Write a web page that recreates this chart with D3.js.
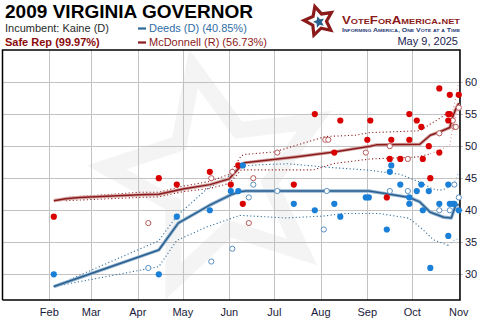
<!DOCTYPE html>
<html><head><meta charset="utf-8">
<script src="https://cdn.jsdelivr.net/npm/d3@7"></script>
<style>body{margin:0;background:#fff}svg{display:block;font-family:Arial,"Liberation Sans",sans-serif}</style>
</head><body><svg id="c" width="490" height="330"></svg>
<script>
// ---------- data ----------
const monthTicks = ["2009-02-01","2009-03-01","2009-04-01","2009-05-01","2009-06-01","2009-07-01","2009-08-01","2009-09-01","2009-10-01","2009-11-01"];
const monthLabels = ["Feb","Mar","Apr","May","Jun","Jul","Aug","Sep","Oct","Nov"];
const yTicks = [30,35,40,45,50,55,60];

const mcdTrend = [["2009-02-04",41.5],["2009-02-12",41.8],["2009-02-21",42.0],["2009-04-02",42.4],["2009-04-15",42.5],["2009-05-01",43.3],["2009-05-19",44.0],["2009-06-01",44.9],["2009-06-09",47.0],["2009-06-11",47.4],["2009-07-15",48.3],["2009-08-10",49.1],["2009-09-03",50.0],["2009-09-07",50.2],["2009-10-06",50.3],["2009-10-13",51.7],["2009-10-19",52.2],["2009-10-26",52.9],["2009-10-28",54.6],["2009-10-30",55.8],["2009-11-01",56.7]];
const deedsTrend = [["2009-02-04",28.1],["2009-04-15",33.8],["2009-04-28",38.0],["2009-05-19",40.8],["2009-06-02",42.4],["2009-06-08",42.9],["2009-06-12",43.0],["2009-09-02",43.0],["2009-09-13",42.6],["2009-09-29",42.0],["2009-10-06",41.3],["2009-10-13",39.7],["2009-10-22",38.9],["2009-10-27",38.8],["2009-10-28",39.5],["2009-10-30",40.8],["2009-11-01",40.85]];

const mcdUpper = [["2009-02-12",42.0],["2009-04-02",42.8],["2009-04-15",42.8],["2009-05-01",43.75],["2009-05-19",44.5],["2009-06-01",45.6],["2009-06-09",48.5],["2009-06-11",48.7],["2009-07-01",49.1],["2009-08-04",51.5],["2009-08-24",51.7],["2009-09-02",52.1],["2009-10-06",52.4],["2009-10-12",53.3],["2009-10-19",54.3],["2009-10-24",55.1]];
const mcdUpperEnd = [["2009-10-24",55.1],["2009-10-28",55.5],["2009-10-30",57.5],["2009-11-01",60.3]];
const mcdLower = [["2009-02-12",41.5],["2009-04-02",42.0],["2009-04-15",42.1],["2009-05-01",42.9],["2009-05-19",43.4],["2009-06-01",44.2],["2009-06-09",46.3],["2009-07-27",46.3],["2009-08-10",47.3],["2009-09-03",48.0],["2009-10-04",48.3],["2009-10-13",48.8]];
const mcdLowerEnd = [["2009-10-13",48.8],["2009-10-19",49.4],["2009-10-26",50.2],["2009-10-28",53.0],["2009-11-01",56.1]];

const deedsUpper = [["2009-02-04",28.1],["2009-04-15",35.25],["2009-04-27",39.1],["2009-05-17",43.3],["2009-05-30",45.0],["2009-06-08",46.9],["2009-06-22",47.1],["2009-07-10",47.25],["2009-08-06",46.7],["2009-09-02",46.25],["2009-09-23",45.6],["2009-10-06",44.4],["2009-10-14",43.4],["2009-10-19",43.1],["2009-10-24",43.4]];
const deedsUpperEnd = [["2009-10-24",43.4],["2009-10-30",44.7],["2009-11-01",46.0]];
const deedsLower = [["2009-02-04",28.1],["2009-04-15",31.2],["2009-04-27",35.3],["2009-05-17",37.4],["2009-06-08",39.2],["2009-07-09",38.8],["2009-08-03",39.1],["2009-08-16",39.5],["2009-09-09",39.5],["2009-09-29",38.75],["2009-10-08",37.0],["2009-10-15",35.4],["2009-10-25",34.5]];
const deedsLowerEnd = [["2009-10-25",34.5],["2009-10-28",35.2],["2009-11-01",35.6]];

const mcdPolls = [["2009-02-04",39],["2009-04-15",45],["2009-04-27",44],["2009-05-19",46],["2009-06-02",44],["2009-06-07",47],["2009-06-10",41],["2009-07-14",44],["2009-07-28",55],["2009-08-10",49],["2009-08-14",54],["2009-09-01",51],["2009-09-03",54],["2009-09-14",42],["2009-09-17",51],["2009-09-16",48],["2009-09-23",48],["2009-09-29",55],["2009-09-29",51],["2009-10-04",54],["2009-10-07",53],["2009-10-08",48],["2009-10-12",50],["2009-10-13",45],["2009-10-19",59],["2009-10-19",49],["2009-10-25",55],["2009-10-25",54],["2009-10-26",55],["2009-10-26",58],["2009-11-01",58]];
const mcdPollsOpen = [["2009-04-08",38],["2009-05-20",45],["2009-06-03",46],["2009-06-14",38],["2009-06-17",45],["2009-07-03",49],["2009-08-04",51],["2009-08-06",51],["2009-08-31",49],["2009-09-16",50],["2009-09-28",48],["2009-10-19",52],["2009-10-28",54],["2009-10-29",53],["2009-10-30",53],["2009-11-01",56]];
const deedsPolls = [["2009-02-04",30],["2009-04-15",30],["2009-04-27",39],["2009-05-19",40],["2009-06-02",43],["2009-06-07",43],["2009-06-10",47],["2009-07-14",41],["2009-07-28",40],["2009-08-10",41],["2009-08-14",39],["2009-08-31",42],["2009-09-02",42],["2009-09-14",37],["2009-09-17",47],["2009-09-16",46],["2009-09-23",44],["2009-09-29",42],["2009-09-29",41],["2009-10-04",43],["2009-10-07",44],["2009-10-08",40],["2009-10-12",43],["2009-10-13",31],["2009-10-19",41],["2009-10-25",44],["2009-10-25",36],["2009-10-26",41],["2009-10-28",41],["2009-10-29",41],["2009-11-01",40]];
const deedsPollsOpen = [["2009-04-08",31],["2009-05-20",32],["2009-06-03",34],["2009-06-14",42],["2009-06-17",44],["2009-07-03",43],["2009-08-03",37],["2009-08-05",43],["2009-09-16",43],["2009-09-28",43],["2009-10-19",40],["2009-10-26",40],["2009-10-29",44],["2009-11-01",42]];

// ---------- chart ----------
const svg = d3.select("#c");
const parse = d3.utcParse("%Y-%m-%d");
const L = 2.5, R = 460, T = 50, B = 300;
const x = d3.scaleUtc().domain([parse("2009-01-01"), parse("2009-11-02")]).range([2.8, 460.3]);
const y = d3.scaleLinear().domain([26, 65]).range([B, T]);

function starPts(cx, cy, ro, ri, rot) {
  const p = [];
  for (let i = 0; i < 10; i++) {
    const a = rot + i * Math.PI / 5 - Math.PI / 2;
    const r = i % 2 ? ri : ro;
    p.push([cx + r * Math.cos(a), cy + r * Math.sin(a)]);
  }
  return p;
}
// watermark star
svg.append("polygon").attr("points", starPts(218, 178, 112, 52, -0.22).join(" "))
  .attr("fill", "none").attr("stroke", "#f4f4f4").attr("stroke-width", 16);

// grid
const g = svg.append("g");
g.selectAll(".hg").data(yTicks).join("line")
  .attr("x1", L).attr("x2", R + 3).attr("y1", d => Math.round(y(d)) + 0.5).attr("y2", d => Math.round(y(d)) + 0.5)
  .attr("stroke", "#c2c2c2").attr("stroke-width", 1);
g.selectAll(".vg").data(monthTicks).join("line")
  .attr("x1", d => Math.round(x(parse(d))) + 0.5).attr("x2", d => Math.round(x(parse(d))) + 0.5)
  .attr("y1", T).attr("y2", B)
  .attr("stroke", "#c2c2c2").attr("stroke-width", 1);

// frame
svg.append("path").attr("d", `M${L},${B}V${T}H${R}V${B}H${L}`).attr("fill", "none").attr("stroke", "#000").attr("stroke-width", 1.5);

// axis labels
svg.append("g").selectAll("text").data(monthTicks).join("text")
  .attr("x", d => x(parse(d))).attr("y", 316).attr("text-anchor", "middle")
  .attr("font-size", 11).attr("fill", "#1a1a3a").text((d, i) => monthLabels[i]);
svg.append("g").selectAll("text").data(yTicks).join("text")
  .attr("x", 465).attr("y", d => y(d) + 4).attr("font-size", 11).attr("fill", "#1a1a3a").text(d => d);

const line = d3.line().x(d => x(parse(d[0]))).y(d => y(d[1]));

// bands
function dotted(data, color) {
  svg.append("path").attr("d", line(data)).attr("fill", "none").attr("stroke", color)
    .attr("stroke-width", 1.1).attr("stroke-dasharray", "1.1,2.4");
}
dotted(mcdUpper, "#8b1a1a"); dotted(mcdUpperEnd, "#d69a9a");
dotted(mcdLower, "#8b1a1a"); dotted(mcdLowerEnd, "#d69a9a");
dotted(deedsUpper, "#2a6a9a"); dotted(deedsUpperEnd, "#8fb4d2");
dotted(deedsLower, "#2a6a9a"); dotted(deedsLowerEnd, "#8fb4d2");

// trend lines
function trend(data, halo, core) {
  svg.append("path").attr("d", line(data)).attr("fill", "none").attr("stroke", halo).attr("stroke-width", 3.4).attr("stroke-linejoin", "round");
  svg.append("path").attr("d", line(data)).attr("fill", "none").attr("stroke", core).attr("stroke-width", 1.5).attr("stroke-linejoin", "round");
}
trend(mcdTrend, "#d4a6a6", "#8b1a1a");
trend(deedsTrend, "#94b5d1", "#2a5f8f");

// polls
function dots(data, fill, stroke, open) {
  svg.append("g").selectAll("circle").data(data).join("circle")
    .attr("cx", d => x(parse(d[0]))).attr("cy", d => y(d[1]))
    .attr("r", open ? 2.6 : 3.1)
    .attr("fill", open ? "#fff" : fill).attr("stroke", open ? stroke : "none").attr("stroke-width", 1);
}
dots(mcdPollsOpen, null, "#b85a5a", true);
dots(deedsPollsOpen, null, "#5a8fbf", true);
dots(mcdPolls, "#d90000", null, false);
dots(deedsPolls, "#1a7fd6", null, false);

// header
svg.append("text").attr("x", 5).attr("y", 18).attr("font-size", 18).attr("font-weight", "bold")
  .attr("fill", "#000").attr("textLength", 248).attr("lengthAdjust", "spacingAndGlyphs").text("2009 VIRGINIA GOVERNOR");
svg.append("text").attr("x", 5).attr("y", 32).attr("font-size", 11).attr("fill", "#2a2a2a").text("Incumbent: Kaine (D)");
svg.append("text").attr("x", 5).attr("y", 46).attr("font-size", 11).attr("font-weight", "bold").attr("fill", "#8b0a0a").text("Safe Rep (99.97%)");

// legend
svg.append("line").attr("x1", 138).attr("x2", 146).attr("y1", 28.5).attr("y2", 28.5).attr("stroke", "#2a6a9a").attr("stroke-width", 2.2);
svg.append("text").attr("x", 149).attr("y", 32).attr("font-size", 11).attr("fill", "#2f6da6").text("Deeds (D) (40.85%)");
svg.append("line").attr("x1", 138).attr("x2", 146).attr("y1", 42.5).attr("y2", 42.5).attr("stroke", "#8b1a1a").attr("stroke-width", 2.2);
svg.append("text").attr("x", 149).attr("y", 46).attr("font-size", 11).attr("fill", "#8b1a1a").text("McDonnell (R) (56.73%)");

// logo
const lg = svg.append("g");
lg.append("polygon").attr("points", starPts(319, 21, 15, 7.5, -0.28).join(" "))
  .attr("fill", "#fff").attr("stroke", "#8b1a1a").attr("stroke-width", 3.2);
lg.append("polygon").attr("points", starPts(319, 22, 6, 2.8, -0.28).join(" ")).attr("fill", "#2a5f8f");
lg.append("text").attr("x", 342).attr("y", 24).attr("font-size", 10).attr("font-weight", "bold")
  .attr("font-variant", "small-caps").attr("fill", "#8b1a1a").attr("textLength", 118).attr("lengthAdjust", "spacingAndGlyphs").text("VoteForAmerica.net");
lg.append("text").attr("x", 342).attr("y", 32).attr("font-size", 5.5).attr("font-weight", "bold")
  .attr("font-variant", "small-caps").attr("fill", "#1f3a78").attr("textLength", 118).attr("lengthAdjust", "spacingAndGlyphs").text("Informing America, One Vote at a Time");
lg.append("text").attr("x", 458).attr("y", 45).attr("text-anchor", "end").attr("font-size", 11).attr("fill", "#1c1c50").text("May 9, 2025");
</script></body></html>
